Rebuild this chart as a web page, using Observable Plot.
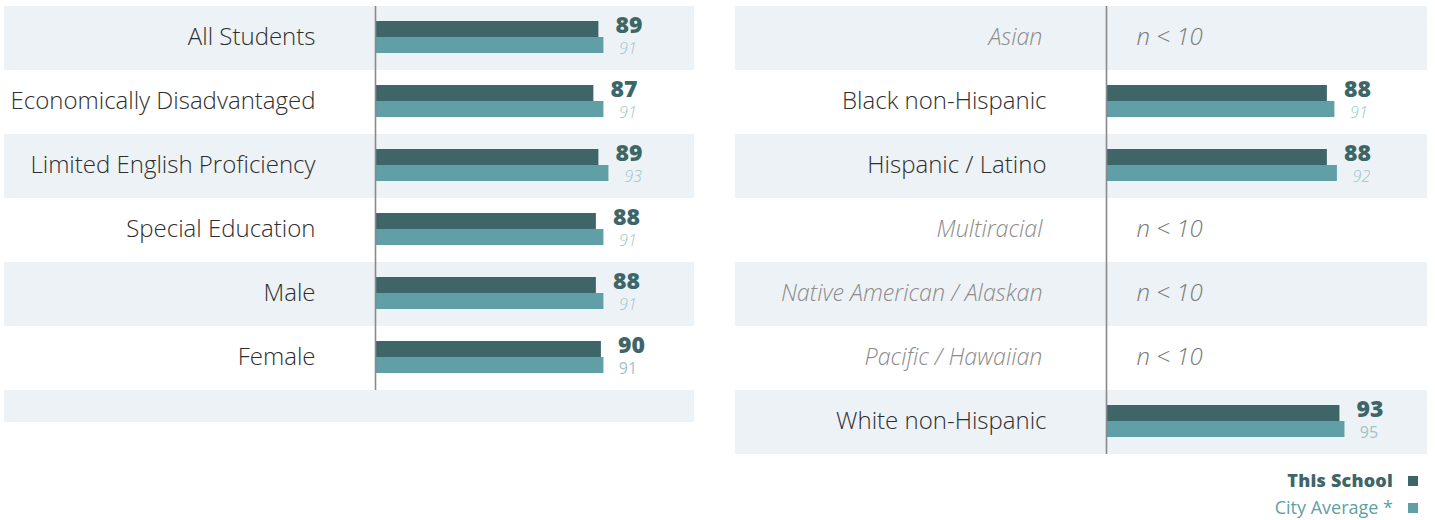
<!DOCTYPE html>
<html><head><meta charset="utf-8">
<script src="https://cdn.jsdelivr.net/npm/d3@7"></script>
<script src="https://cdn.jsdelivr.net/npm/@observablehq/plot@0.6"></script>
<style>
body{margin:0;background:#fff;font-family:"Open Sans",sans-serif;}
#wrap{position:relative;width:1435px;height:520px;overflow:hidden;}
.panel{position:absolute;overflow:hidden;}
#left{left:4px;top:6px;width:690px;height:416px;}
#right{left:735px;top:6px;width:692px;height:448px;}
#legend{position:absolute;right:17px;top:467px;text-align:right;font-size:18px;line-height:27px;}
#legend .sq{display:inline-block;width:10px;height:10px;margin-left:15px;vertical-align:1px;}
#legend .s{color:#3e6668;font-weight:800;letter-spacing:0.2px;}
#legend .c{color:#609fa6;font-weight:400;}
</style></head>
<body>
<div id="wrap">
  <div id="left" class="panel"></div>
  <div id="right" class="panel"></div>
  <div id="legend">
    <div class="s">This School<span class="sq" style="background:#3e6668"></span></div>
    <div class="c">City Average *<span class="sq" style="background:#609fa6"></span></div>
  </div>
</div>
<script>
const leftCategories = ["All Students","Economically Disadvantaged","Limited English Proficiency","Special Education","Male","Female"];
const leftSchool = [89, 87, 89, 88, 88, 90];
const leftCity = [91, 91, 93, 91, 91, 91];
const leftCityItalic = [true, true, true, true, true, false];

const rightCategories = ["Asian","Black non-Hispanic","Hispanic / Latino","Multiracial","Native American / Alaskan","Pacific / Hawaiian","White non-Hispanic"];
const rightSchool = [null, 88, 88, null, null, null, 93];
const rightCity = [null, 91, 92, null, null, null, 95];
const rightCityItalic = [false, true, true, false, false, false, false];
const suppressedText = "n < 10";

const DARK = "#3e6668", LIGHT = "#609fa6", LIGHTTXT = "#9cc6ca", STRIPE = "#edf2f6";
const ROW = 64, BASE = 371, SPAN = 251;

function build(cats, school, city, italic, width, height, extraRow) {
  const data = cats.map((c, i) => ({cat: c, school: school[i], city: city[i], italic: italic[i], i}));
  const domain = extraRow ? [...cats, " "] : cats;
  const stripes = domain.map((c, i) => ({cat: c, i})).filter(d => d.i % 2 === 0);
  const shown = data.filter(d => d.school != null);
  const hidden = data.filter(d => d.school == null);
  return Plot.plot({
    width, height,
    marginLeft: 0, marginRight: 0, marginTop: 0, marginBottom: 0,
    style: {fontFamily: "Open Sans, sans-serif", background: "transparent", overflow: "hidden"},
    x: {domain: [0, 100], range: [BASE, BASE + SPAN], axis: null},
    y: {domain, range: [0, domain.length * ROW], padding: 0, axis: null},
    marks: [
      Plot.cell(stripes, {y: "cat", fill: STRIPE}),
      Plot.barX(shown, {y: "cat", x1: 0, x2: "school", fill: DARK, insetTop: 15, insetBottom: 33, insetLeft: 1}),
      Plot.barX(shown, {y: "cat", x1: 0, x2: "city", fill: LIGHT, insetTop: 31, insetBottom: 17, insetLeft: 1}),
      Plot.tickX(data, {x: () => 0, y: "cat", stroke: "#8a8a8a", strokeWidth: 1.6}),
      Plot.text(shown, {y: "cat", x: () => 0, text: "cat", dx: -60, dy: -1, textAnchor: "end", fontSize: 24, fontWeight: 300, fill: "#2e2e2e"}),
      Plot.text(hidden, {y: "cat", x: () => 0, text: "cat", dx: -64, dy: -1, textAnchor: "end", fontSize: 23.3, fontWeight: 300, fontStyle: "italic", fill: "#8c8c8c"}),
      Plot.text(hidden, {y: "cat", x: () => 0, text: () => suppressedText, dx: 30, dy: -1, textAnchor: "start", fontSize: 24, fontWeight: 300, fontStyle: "italic", fill: "#7a7a7a"}),
      Plot.text(shown, {y: "cat", x: "school", text: d => String(d.school), dx: 30, dy: -13, fontSize: 23, fontWeight: 800, fill: DARK}),
      Plot.text(shown.filter(d => d.italic), {y: "cat", x: "city", text: d => String(d.city), dx: 24, dy: 10, fontSize: 16, fontWeight: 300, fontStyle: "italic", fill: LIGHTTXT}),
      Plot.text(shown.filter(d => !d.italic), {y: "cat", x: "city", text: d => String(d.city), dx: 24, dy: 10, fontSize: 16, fontWeight: 400, fill: LIGHTTXT})
    ]
  });
}

document.getElementById("left").append(build(leftCategories, leftSchool, leftCity, leftCityItalic, 690, 416, true));
document.getElementById("right").append(build(rightCategories, rightSchool, rightCity, rightCityItalic, 692, 448, false));
</script>
</body></html>
